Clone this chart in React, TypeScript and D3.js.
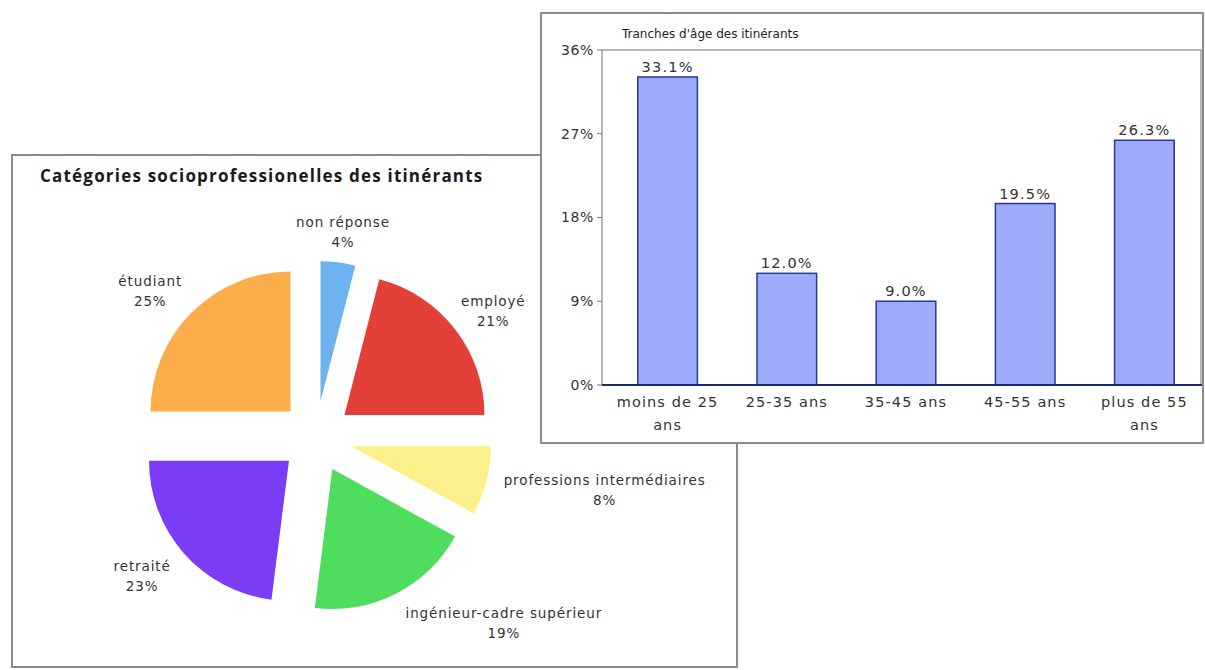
import React from "react";
import * as d3 from "d3";

// ---- Pie data ----
const pieCategories = [
  "non réponse",
  "employé",
  "professions intermédiaires",
  "ingénieur-cadre supérieur",
  "retraité",
  "étudiant",
];
const pieValues = [4, 21, 8, 19, 23, 25];
const pieColors = ["#6db3ef", "#e4403a", "#fcf08a", "#4fdd5d", "#7a3df5", "#fbad4a"];
const pieTitle = "Catégories socioprofessionelles des itinérants";

// ---- Bar data ----
const barCategories = ["moins de 25 ans", "25-35 ans", "35-45 ans", "45-55 ans", "plus de 55 ans"];
const barValues = [33.1, 12.0, 9.0, 19.5, 26.3];
const barTicks = [0, 9, 18, 27, 36];
const barTitle = "Tranches d'âge des itinérants";

function wrapLabel(s: string, max = 11): string[] {
  if (s.length <= max) return [s];
  const i = s.lastIndexOf(" ");
  return [s.slice(0, i), s.slice(i + 1)];
}

export default function App() {
  const W = 1205;
  const H = 670;

  // pie geometry
  const cx = 316;
  const cy = 437;
  const R = 140;
  const explode = 36;
  const pie = d3
    .pie<number>()
    .sort(null)
    .value((d) => d)
    .startAngle(0)
    .endAngle(2 * Math.PI);
  const arcs = pie(pieValues);
  const arcGen = d3.arc<d3.PieArcDatum<number>>().innerRadius(0).outerRadius(R);
  const total = d3.sum(pieValues);

  // bar geometry
  const plotL = 602;
  const plotR = 1201;
  const plotT = 50;
  const plotB = 385;
  const x = d3
    .scaleBand<string>()
    .domain(barCategories)
    .range([608, 1204])
    .paddingInner(0.5)
    .paddingOuter(0.25);
  const y = d3.scaleLinear().domain([0, 36]).range([plotB, plotT]);

  const pieFont = "'DejaVu Sans', sans-serif";
  const labelR = 188;

  return (
    <svg
      width={W}
      height={H}
      style={{ position: "absolute", left: 0, top: 0, background: "#fff" }}
      xmlns="http://www.w3.org/2000/svg"
    >
      {/* Pie panel */}
      <rect x={12} y={155} width={725} height={512} fill="#fff" stroke="#8c8c8c" strokeWidth={2} />
      <text
        x={40}
        y={182}
        fontFamily="'Open Sans', sans-serif"
        fontWeight={700}
        fontSize={17}
        letterSpacing={1.2}
        fill="#1a1a1a"
      >
        {pieTitle}
      </text>
      {arcs.map((a, i) => {
        const mid = (a.startAngle + a.endAngle) / 2;
        const dx = explode * Math.sin(mid);
        const dy = -explode * Math.cos(mid);
        return (
          <path
            key={pieCategories[i]}
            d={arcGen(a) || ""}
            transform={`translate(${cx + dx},${cy + dy})`}
            fill={pieColors[i]}
          />
        );
      })}
      {arcs.map((a, i) => {
        const mid = (a.startAngle + a.endAngle) / 2;
        const s = Math.sin(mid);
        const c = -Math.cos(mid);
        const name = pieCategories[i];
        const pct = `${Math.round((pieValues[i] / total) * 100)}%`;
        const w = name.length * 8.2;
        const h = 40;
        const ax = cx + labelR * s;
        const ay = cy + labelR * c;
        const sx = Math.sign(s) * Math.min(1, Math.max(0, (Math.abs(s) - 0.1) * 3));
        const lx = ax + (w / 2) * sx;
        const ly = ay + (h / 2) * c;
        return (
          <g key={"l" + name} fontFamily={pieFont} fontSize={13.5} letterSpacing={0.9} fill="#333" textAnchor="middle">
            <text x={lx} y={ly - 4}>{name}</text>
            <text x={lx} y={ly + 16}>{pct}</text>
          </g>
        );
      })}

      {/* Bar panel */}
      <rect x={541} y={13} width={662} height={430} fill="#fff" stroke="#8c8c8c" strokeWidth={2} />
      <text x={622} y={38} fontFamily={pieFont} fontSize={12} fill="#222">
        {barTitle}
      </text>
      {/* plot frame */}
      <rect x={plotL} y={plotT} width={plotR - plotL} height={plotB - plotT} fill="none" stroke="#a0a0a0" strokeWidth={1.5} />
      {barTicks.map((t) => (
        <g key={"t" + t}>
          <line x1={plotL - 5} x2={plotL} y1={y(t)} y2={y(t)} stroke="#777" />
          <text
            x={plotL - 8}
            y={y(t)}
            dy="0.35em"
            textAnchor="end"
            fontFamily={pieFont}
            fontSize={14}
            letterSpacing={0.6}
            fill="#333"
          >
            {t}%
          </text>
        </g>
      ))}
      {barCategories.map((cat, i) => {
        const bx = x(cat) as number;
        const bw = x.bandwidth();
        const v = barValues[i];
        return (
          <g key={cat}>
            <rect x={bx} y={y(v)} width={bw} height={plotB - y(v)} fill="#9dacf8" stroke="#283593" strokeWidth={1.5} />
            <text
              x={bx + bw / 2}
              y={y(v) - 5}
              textAnchor="middle"
              fontFamily={pieFont}
              fontSize={14.5}
              letterSpacing={1.2}
              fill="#333"
            >
              {v.toFixed(1)}%
            </text>
            {wrapLabel(cat).map((ln, j) => (
              <text
                key={ln}
                x={bx + bw / 2}
                y={407 + j * 23}
                textAnchor="middle"
                fontFamily={pieFont}
                fontSize={14.5}
                letterSpacing={1.1}
                fill="#333"
              >
                {ln}
              </text>
            ))}
          </g>
        );
      })}
      <line x1={plotL} x2={plotR + 1} y1={plotB} y2={plotB} stroke="#1f2a6e" strokeWidth={2} />
    </svg>
  );
}
